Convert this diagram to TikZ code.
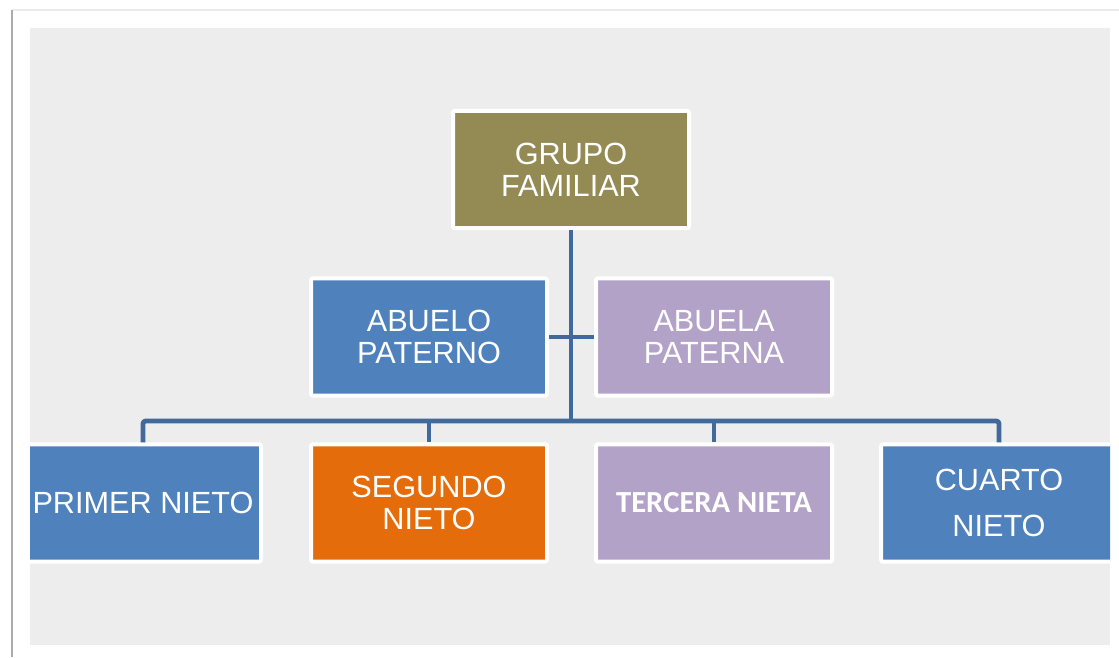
\documentclass[tikz,border=0pt]{standalone}
\usepackage{fontspec}
\setmainfont{Liberation Sans}
\newfontfamily\calibri{Carlito}
\usetikzlibrary{positioning}

\definecolor{panel}{HTML}{EDEDED}
\definecolor{linea}{HTML}{41699B}
\definecolor{oliva}{HTML}{948A54}
\definecolor{azul}{HTML}{4F81BD}
\definecolor{lila}{HTML}{B3A2C7}
\definecolor{naranja}{HTML}{E46C0A}

\begin{document}
\begin{tikzpicture}[
            x = 0.75pt, y = -0.75pt, % one unit per pixel
            conector/.style = {draw = linea, line width = 3.6pt},
            line join = round
        ]

        \tikzstyle{caja}=[
            rectangle,
            draw = white,
            line width = 3pt,
            rounded corners = 1.5pt,
            minimum width = 177pt,
            minimum height = 88pt,
            inner sep = 0pt,
            align = center,
            text = white,
            font = \fontsize{23}{24}\selectfont
        ]

        \useasboundingbox (0,0) rectangle (1119,657);
        \fill[white] (0,0) rectangle (1119,657);
        \draw[black!8, line width = 1.5pt] (12,9.5) -- (1119,9.5);
        \draw[black!32, line width = 2.2pt] (12,10) -- (12,657);
        \fill[panel] (30,28) rectangle (1110,645);

        \begin{scope}
        \clip (30,28) rectangle (1110,645);

        \node[caja, fill = oliva] (grupo) at (571,169.5) {GRUPO\\FAMILIAR};
        \node[caja, fill = azul] (abuelo) at (429,337) {ABUELO\\PATERNO};
        \node[caja, fill = lila] (abuela) at (714,337) {ABUELA\\PATERNA};

        \node[caja, fill = azul] (primer) at (143,503) {PRIMER NIETO};
        \node[caja, fill = naranja] (segundo) at (429,503) {SEGUNDO\\NIETO};
        \node[caja, fill = lila, font = \calibri\bfseries\fontsize{23}{24}\selectfont] (tercera) at (714,503) {TERCERA NIETA};
        \node[caja, fill = azul, font = \fontsize{23}{35}\selectfont] (cuarto) at (999,503) {CUARTO\\NIETO};

        \coordinate (bus) at (571,421);

        \path[conector] (grupo) -- (bus);
        \path[conector] (abuelo) -- (abuela);
        \path[conector, rounded corners = 2pt] (bus) -| (primer);
        \path[conector, rounded corners = 2pt] (bus) -| (cuarto);
        \path[conector] (bus) -| (segundo);
        \path[conector] (bus) -| (tercera);
        \end{scope}

  \end{tikzpicture}
\end{document}
